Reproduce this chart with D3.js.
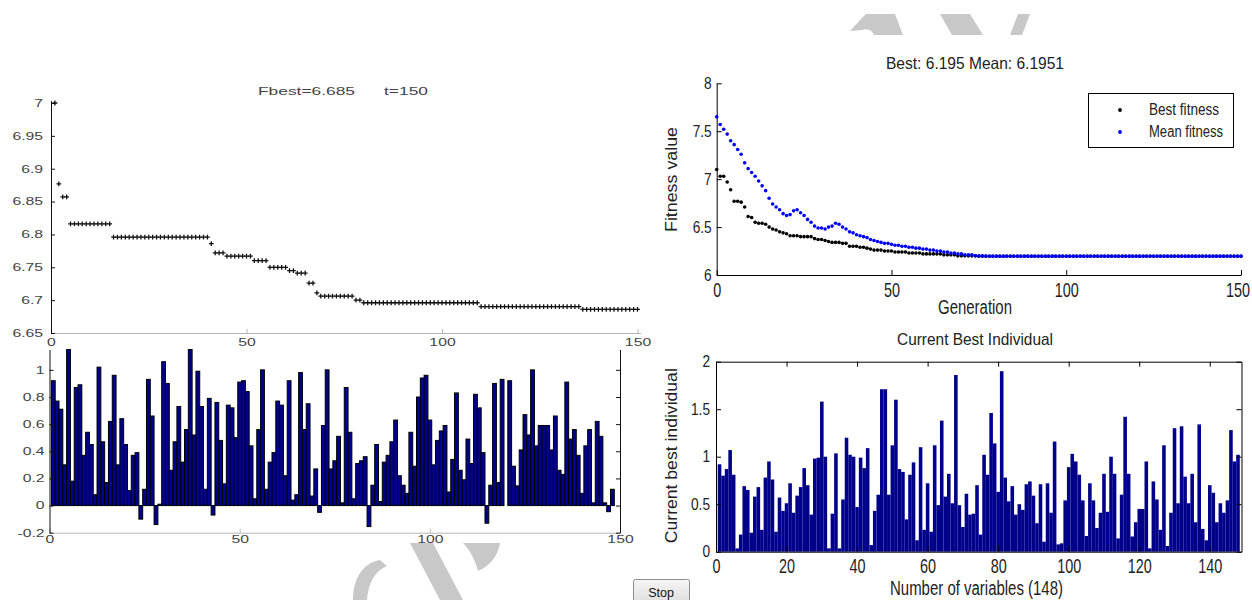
<!DOCTYPE html>
<html>
<head>
<meta charset="utf-8">
<script src="https://cdn.jsdelivr.net/npm/d3@7"></script>
<style>
body { margin: 0; background: #fff; }
svg { display: block; }
</style>
</head>
<body>
<svg width="1252" height="600"></svg>
<script>
// ---- data ----

// left top: Fbest per iteration t = 1..150
const fbestVals = [
  7.000,6.877,6.857,6.857,6.816,6.816,6.816,6.816,6.816,6.816,
  6.816,6.816,6.816,6.816,6.816,6.796,6.796,6.796,6.796,6.796,
  6.796,6.796,6.796,6.796,6.796,6.796,6.796,6.796,6.796,6.796,
  6.796,6.796,6.796,6.796,6.796,6.796,6.796,6.796,6.796,6.796,
  6.786,6.772,6.772,6.772,6.767,6.767,6.767,6.767,6.767,6.767,
  6.767,6.760,6.760,6.760,6.760,6.750,6.750,6.750,6.750,6.750,
  6.745,6.745,6.741,6.741,6.741,6.726,6.726,6.711,6.706,6.706,
  6.706,6.706,6.706,6.706,6.706,6.706,6.706,6.700,6.700,6.696,
  6.696,6.696,6.696,6.696,6.696,6.696,6.696,6.696,6.696,6.696,
  6.696,6.696,6.696,6.696,6.696,6.696,6.696,6.696,6.696,6.696,
  6.696,6.696,6.696,6.696,6.696,6.696,6.696,6.696,6.696,6.690,
  6.690,6.690,6.690,6.690,6.690,6.690,6.690,6.690,6.690,6.690,
  6.690,6.690,6.690,6.690,6.690,6.690,6.690,6.690,6.690,6.690,
  6.690,6.690,6.690,6.690,6.690,6.686,6.686,6.686,6.686,6.686,
  6.686,6.686,6.686,6.686,6.686,6.686,6.686,6.686,6.686,6.686
];
const fbestTicksY = [6.65, 6.7, 6.75, 6.8, 6.85, 6.9, 6.95, 7];
const iterTicks = [0, 50, 100, 150];

// left bottom: variables of the best solution (148 bars)
const leftBars = [
  0.92,0.77,0.71,0.30,1.15,0.18,0.87,0.89,0.37,0.54,
  0.45,0.08,1.02,0.47,0.17,0.62,0.96,0.30,0.64,0.45,
  0.11,0.37,0.39,-0.10,0.12,0.93,0.66,-0.14,0.01,1.06,
  0.90,0.26,0.47,0.73,0.32,0.56,1.15,0.52,0.99,0.73,
  0.12,0.79,-0.07,0.76,0.48,0.16,0.74,0.72,0.50,0.91,
  0.92,0.84,0.44,0.05,0.56,1.00,0.12,0.32,0.39,0.77,
  0.74,0.22,0.92,0.04,0.08,0.98,0.56,0.75,0.07,0.27,
  -0.05,0.59,1.00,0.27,0.33,0.51,0.02,0.87,0.54,0.05,
  0.31,0.33,0.36,-0.155,0.15,0.45,0.03,0.32,0.37,0.47,
  0.63,0.22,0.15,0.09,0.54,0.29,0.80,0.94,0.96,0.63,
  0.30,0.48,0.55,0.59,0.10,0.34,0.83,0.26,0.19,0.49,
  0.31,0.82,0.72,0.39,-0.13,0.15,0.90,0.17,0.93,0.00,
  0.92,0.29,0.145,0.41,0.67,0.52,1.00,0.44,0.59,0.59,
  0.59,0.41,0.66,0.26,0.23,0.91,0.49,0.56,0.37,0.09,
  0.44,0.56,0.02,0.62,0.51,0.02,-0.045,0.12
];
const leftBarTicksY = [-0.2, 0, 0.2, 0.4, 0.6, 0.8, 1];

// right top: best and mean fitness per generation 0..150
const bestFitness = [
  7.10,7.03,7.03,6.97,6.89,6.77,6.77,6.76,6.71,6.61,
  6.60,6.55,6.54,6.54,6.53,6.50,6.48,6.47,6.45,6.44,
  6.43,6.41,6.41,6.41,6.40,6.40,6.40,6.40,6.38,6.37,
  6.37,6.36,6.35,6.34,6.34,6.34,6.33,6.33,6.30,6.30,
  6.30,6.29,6.29,6.28,6.27,6.26,6.26,6.26,6.25,6.25,
  6.25,6.24,6.24,6.24,6.24,6.23,6.23,6.23,6.23,6.22,
  6.22,6.22,6.22,6.22,6.22,6.21,6.21,6.21,6.21,6.20,
  6.20,6.20,6.20,6.20,6.20,6.195,6.195,6.195,6.195,6.195,
  6.195,6.195,6.195,6.195,6.195,6.195,6.195,6.195,6.195,6.195,
  6.195,6.195,6.195,6.195,6.195,6.195,6.195,6.195,6.195,6.195,
  6.195,6.195,6.195,6.195,6.195,6.195,6.195,6.195,6.195,6.195,
  6.195,6.195,6.195,6.195,6.195,6.195,6.195,6.195,6.195,6.195,
  6.195,6.195,6.195,6.195,6.195,6.195,6.195,6.195,6.195,6.195,
  6.195,6.195,6.195,6.195,6.195,6.195,6.195,6.195,6.195,6.195,
  6.195,6.195,6.195,6.195,6.195,6.195,6.195,6.195,6.195,6.195,
  6.195
];
const meanFitness = [
  7.65,7.57,7.52,7.47,7.40,7.36,7.31,7.26,7.17,7.11,
  7.07,7.03,6.98,6.93,6.88,6.80,6.74,6.71,6.68,6.64,
  6.62,6.63,6.67,6.68,6.65,6.62,6.58,6.55,6.51,6.49,
  6.49,6.48,6.50,6.51,6.54,6.53,6.50,6.48,6.45,6.44,
  6.42,6.41,6.40,6.39,6.37,6.36,6.35,6.34,6.33,6.33,
  6.32,6.31,6.31,6.30,6.30,6.29,6.29,6.28,6.28,6.27,
  6.27,6.26,6.26,6.25,6.25,6.24,6.24,6.23,6.23,6.22,
  6.22,6.21,6.21,6.21,6.20,6.20,6.20,6.197,6.195,6.195,
  6.195,6.195,6.195,6.195,6.195,6.195,6.195,6.195,6.195,6.195,
  6.195,6.195,6.195,6.195,6.195,6.195,6.195,6.195,6.195,6.195,
  6.195,6.195,6.195,6.195,6.195,6.195,6.195,6.195,6.195,6.195,
  6.195,6.195,6.195,6.195,6.195,6.195,6.195,6.195,6.195,6.195,
  6.195,6.195,6.195,6.195,6.195,6.195,6.195,6.195,6.195,6.195,
  6.195,6.195,6.195,6.195,6.195,6.195,6.195,6.195,6.195,6.195,
  6.195,6.195,6.195,6.195,6.195,6.195,6.195,6.195,6.195,6.195,
  6.195
];
const fitTicksY = [6, 6.5, 7, 7.5, 8];
const genTicks = [0, 50, 100, 150];

// right bottom: current best individual (148 variables)
const rightBars = [
  0.92,0.80,0.87,1.07,0.81,0.035,0.18,0.69,0.65,0.20,
  0.58,0.68,0.23,0.78,0.95,0.76,0.21,0.57,0.43,0.51,
  0.72,0.41,0.59,0.68,0.88,0.70,0.39,0.98,0.99,1.58,
  1.00,0.035,0.40,1.035,0.035,0.55,1.20,1.02,1.00,0.47,
  0.99,0.88,1.09,0.07,0.43,0.60,1.71,1.71,0.60,1.12,
  1.60,0.87,0.84,0.34,0.81,0.94,0.12,1.10,0.23,0.72,
  0.21,1.12,0.49,1.38,0.58,0.82,0.51,1.86,0.49,0.26,
  0.61,0.39,0.40,0.70,0.18,1.02,0.81,1.46,1.14,0.63,
  1.90,0.78,0.53,0.69,0.39,0.50,0.44,0.71,0.74,0.59,
  0.30,0.71,0.105,0.72,0.41,1.16,0.077,0.088,0.54,0.89,
  1.03,0.95,0.81,0.54,0.165,0.72,0.54,0.25,0.41,0.82,
  0.42,1.00,0.82,0.14,0.60,1.42,0.82,0.16,0.31,0.45,
  0.45,0.95,0.035,0.74,0.55,0.23,1.12,0.06,0.41,1.30,
  0.51,1.32,0.79,0.51,0.82,0.31,1.34,0.24,0.12,0.70,
  0.62,0.31,0.51,0.41,0.54,1.28,0.95,1.02
];
const indivTicksX = [0, 20, 40, 60, 80, 100, 120, 140];
const indivTicksY = [0, 0.5, 1, 1.5, 2];

// ---- drawing ----
const FONT = "'Liberation Sans', Arial, Helvetica, sans-serif";
const svg = d3.select("svg");
const num = d => String(+d.toFixed(2));

function styleAxis(g, fs, sx, textColor) {
    g.attr("font-family", FONT).attr("font-size", fs);
    g.selectAll("text").attr("fill", textColor).attr("transform", "scale(" + sx + ",1)");
}

function label(x, y, str, fs, len, opts) {
    opts = opts || {};
    let t = svg.append("text")
        .attr("font-family", FONT)
        .attr("font-size", fs)
        .attr("fill", opts.color || "#222")
        .attr("text-anchor", opts.anchor || "middle")
        .attr("textLength", len)
        .attr("lengthAdjust", "spacingAndGlyphs")
        .text(str);
    if (opts.rotate) t.attr("transform", "translate(" + x + "," + y + ") rotate(-90)");
    else t.attr("x", x).attr("y", y);
    return t;
}

// ===== left top: Fbest =====
let xLT = d3.scaleLinear().domain([0, 150]).range([51, 637.5]);
let yLT = d3.scaleLinear().domain([6.65, 7]).range([333, 103]);

let gxLT = svg.append("g").attr("transform", "translate(0,333)")
    .attr("color", "#b5b5b5")
    .call(d3.axisBottom(xLT).tickValues(iterTicks).tickSizeInner(-4).tickSizeOuter(0).tickPadding(6));
styleAxis(gxLT, 10.5, 1.5, "#444");
gxLT.select(".domain").attr("d", "M51,0.5H641");

let gyLT = svg.append("g").attr("transform", "translate(51,0)")
    .attr("color", "#111")
    .call(d3.axisLeft(yLT).tickValues(fbestTicksY).tickFormat(num).tickSizeInner(-4).tickSizeOuter(0).tickPadding(5.3));
styleAxis(gyLT, 10.5, 1.5, "#444");
gyLT.select(".domain").attr("d", "M0.5,101V333");

svg.append("g").selectAll("path")
    .data(fbestVals)
    .enter()
    .append("path")
    .attr("transform", (d, i) => "translate(" + xLT(i + 1) + "," + yLT(d) + ")")
    .attr("d", "M-2.4,0H2.4M0,-2.4V2.4")
    .attr("stroke", "#111")
    .attr("stroke-width", 1.3);

label(258, 95, "Fbest=6.685", 10.5, 97, { anchor: "start", color: "#444" });
label(384, 95, "t=150", 10.5, 44, { anchor: "start", color: "#444" });

// ===== left bottom: bars =====
let xLB = d3.scaleLinear().domain([0, 150]).range([49.5, 620]);
let yLB = d3.scaleLinear().domain([-0.2, 1.15]).range([532.7, 349.5]);

svg.append("g").selectAll("rect")
    .data(leftBars)
    .enter()
    .append("rect")
    .attr("x", (d, i) => xLB(i + 0.5))
    .attr("width", xLB(1) - xLB(0))
    .attr("y", d => yLB(Math.max(0, d)))
    .attr("height", d => Math.abs(yLB(d) - yLB(0)))
    .attr("fill", "#000090")
    .attr("stroke", "#000")
    .attr("stroke-width", 1);

let gxLB = svg.append("g").attr("transform", "translate(0,532.7)")
    .attr("color", "#b5b5b5")
    .call(d3.axisBottom(xLB).tickValues(iterTicks).tickSizeInner(-4).tickSizeOuter(0).tickPadding(3));
styleAxis(gxLB, 10.5, 1.5, "#444");

let gyLB = svg.append("g").attr("transform", "translate(49.5,0)")
    .attr("color", "#111")
    .call(d3.axisLeft(yLB).tickValues(leftBarTicksY).tickFormat(num).tickSizeInner(-4).tickSizeOuter(0).tickPadding(3.3));
styleAxis(gyLB, 10.5, 1.5, "#444");

svg.append("g").attr("transform", "translate(620,0)")
    .attr("color", "#111")
    .call(d3.axisRight(yLB).tickValues(leftBarTicksY).tickFormat("").tickSizeInner(-4).tickSizeOuter(0));

// ===== right top: fitness =====
let xRT = d3.scaleLinear().domain([0, 150]).range([716.7, 1241]);
let yRT = d3.scaleLinear().domain([6, 8]).range([275, 83.3]);

let gxRT = svg.append("g").attr("transform", "translate(0,275)")
    .attr("color", "#000")
    .call(d3.axisBottom(xRT).tickValues(genTicks).tickSizeInner(-5).tickSizeOuter(0).tickPadding(8));
styleAxis(gxRT, 20, 0.72, "#222");
gxRT.selectAll(".tick text").filter(d => d === 150).attr("dx", -5);

let gyRT = svg.append("g").attr("transform", "translate(716.7,0)")
    .attr("color", "#000")
    .call(d3.axisLeft(yRT).tickValues(fitTicksY).tickFormat(num).tickSizeInner(-5).tickSizeOuter(0).tickPadding(6));
styleAxis(gyRT, 16.5, 0.83, "#222");

svg.append("g").selectAll("circle")
    .data(bestFitness)
    .enter()
    .append("circle")
    .attr("cx", (d, i) => xRT(i))
    .attr("cy", d => yRT(d))
    .attr("r", 1.8)
    .attr("fill", "#000");

svg.append("g").selectAll("circle")
    .data(meanFitness)
    .enter()
    .append("circle")
    .attr("cx", (d, i) => xRT(i))
    .attr("cy", d => yRT(d))
    .attr("r", 1.8)
    .attr("fill", "#0000ff");

label(975, 69, "Best: 6.195 Mean: 6.1951", 16.5, 178);
label(975, 314, "Generation", 20, 74);
label(677, 179.5, "Fitness value", 16, 105, { rotate: true });

// legend
svg.append("rect")
    .attr("x", 1088.5).attr("y", 93.5).attr("width", 145).attr("height", 54)
    .attr("fill", "#fff").attr("stroke", "#000").attr("stroke-width", 1);
svg.append("circle").attr("cx", 1120).attr("cy", 110).attr("r", 1.9).attr("fill", "#000");
svg.append("circle").attr("cx", 1120).attr("cy", 132).attr("r", 1.9).attr("fill", "#0000ff");
label(1149, 115, "Best fitness", 16, 70, { anchor: "start" });
label(1149, 137, "Mean fitness", 16, 74, { anchor: "start" });

// ===== right bottom: current best individual =====
let xRB = d3.scaleLinear().domain([0, 149]).range([716, 1241.5]);
let yRB = d3.scaleLinear().domain([0, 2]).range([551.7, 361.7]);

svg.append("g").selectAll("rect")
    .data(rightBars)
    .enter()
    .append("rect")
    .attr("x", (d, i) => xRB(i + 0.5))
    .attr("width", xRB(1) - xRB(0) + 0.05)
    .attr("y", d => yRB(d))
    .attr("height", d => yRB(0) - yRB(d))
    .attr("fill", "#00008b");

let gxRB = svg.append("g").attr("transform", "translate(0,551.7)")
    .attr("color", "#000")
    .call(d3.axisBottom(xRB).tickValues(indivTicksX).tickSizeInner(-5).tickSizeOuter(0).tickPadding(7));
styleAxis(gxRB, 20, 0.72, "#222");

svg.append("g").attr("transform", "translate(0,361.7)")
    .attr("color", "#000")
    .call(d3.axisTop(xRB).tickValues(indivTicksX).tickFormat("").tickSizeInner(-5).tickSizeOuter(0));

let gyRB = svg.append("g").attr("transform", "translate(716,0)")
    .attr("color", "#000")
    .call(d3.axisLeft(yRB).tickValues(indivTicksY).tickFormat(num).tickSizeInner(-5).tickSizeOuter(0).tickPadding(7.2));
styleAxis(gyRB, 16.5, 0.83, "#222");

svg.append("g").attr("transform", "translate(1241.5,0)")
    .attr("color", "#000")
    .call(d3.axisRight(yRB).tickValues(indivTicksY).tickFormat("").tickSizeInner(-5).tickSizeOuter(0));

label(975, 345, "Current Best Individual", 16.5, 156);
label(976.5, 595, "Number of variables (148)", 20, 173);
label(677, 455.7, "Current best individual", 16.5, 175, { rotate: true });

// ===== Stop button =====
let grad = svg.append("defs").append("linearGradient")
    .attr("id", "btn").attr("x1", 0).attr("y1", 0).attr("x2", 0).attr("y2", 1);
grad.append("stop").attr("offset", "0%").attr("stop-color", "#f6f6f6");
grad.append("stop").attr("offset", "100%").attr("stop-color", "#dcdcdc");
svg.append("rect")
    .attr("x", 633.5).attr("y", 579.5).attr("width", 56).attr("height", 26).attr("rx", 2)
    .attr("fill", "url(#btn)").attr("stroke", "#8c8c8c");
svg.append("text")
    .attr("x", 661).attr("y", 597)
    .attr("font-family", FONT).attr("font-size", 12.5)
    .attr("text-anchor", "middle").attr("fill", "#111")
    .text("Stop");

// ===== watermark fragments =====
let wm = svg.append("g").attr("fill", "#c8c8c8");
wm.append("path").attr("d", "M850,31 L862,18 L866,14 L895,14 L903,35 L874,35 C872,30 868,28 862,30 Z");
wm.append("path").attr("d", "M940,14 L970,14 L983,35 L952,35 Z");
wm.append("path").attr("d", "M1018,14 L1030,14 L1022,35 L1010,35 Z");
wm.append("path").attr("d", "M353,600 C353,580 362,563 380,560 L387,566 C374,571 368,585 367,600 Z");
wm.append("path").attr("d", "M410,543 L433,543 L463,600 L440,600 Z");
wm.append("path").attr("d", "M463,543 L500,543 C498,556 490,566 478,571 C475,560 470,550 463,543 Z");
</script>
</body>
</html>
